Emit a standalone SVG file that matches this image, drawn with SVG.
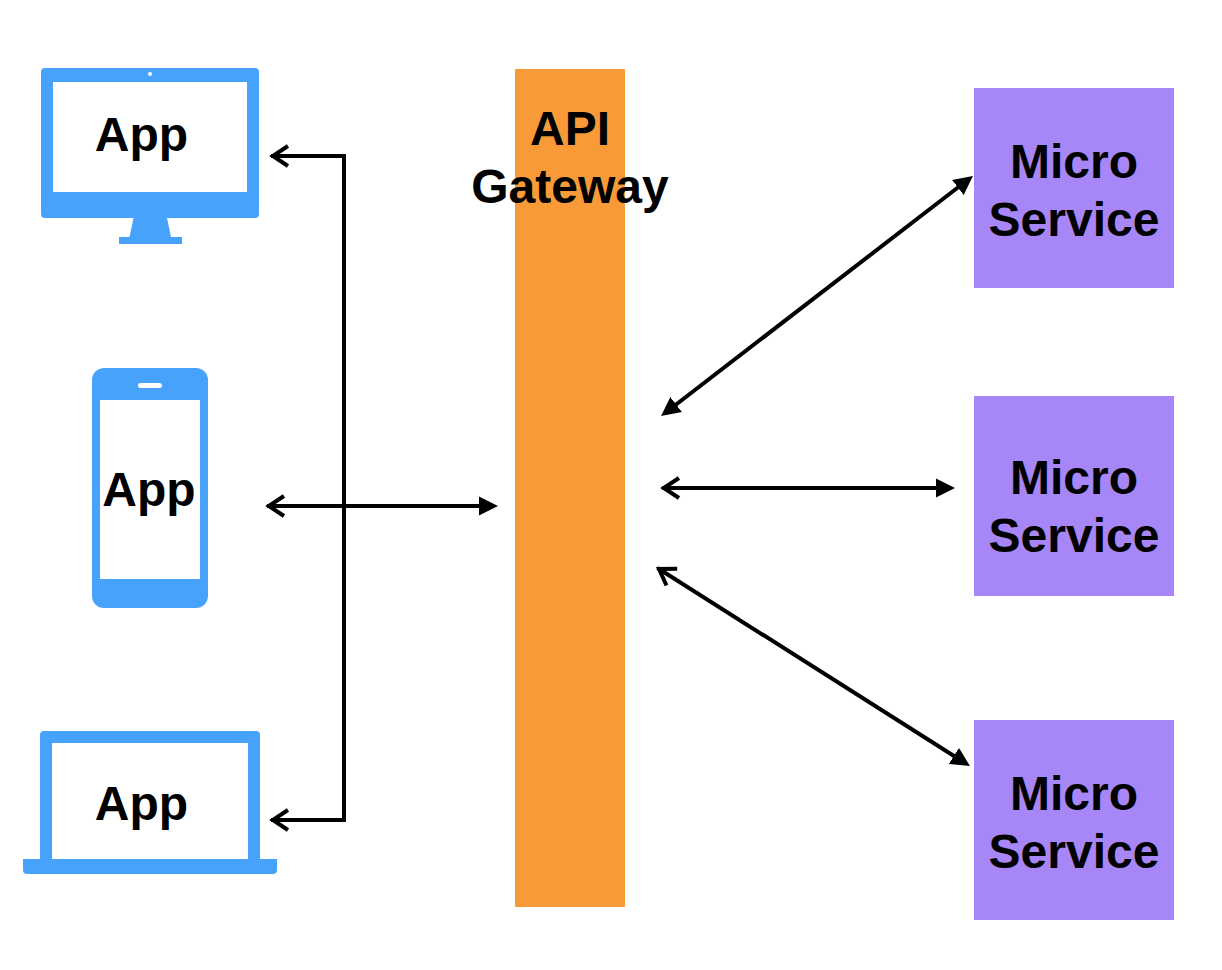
<svg xmlns="http://www.w3.org/2000/svg" width="1222" height="970" viewBox="0 0 1222 970">
<style>
.device{fill:#46a2fb}
.hole{fill:#fff}
.label{font-family:"Liberation Sans",Arial,sans-serif;font-weight:700;font-size:48px;fill:#000;text-anchor:middle}
.conn{fill:none;stroke:#000;stroke-width:4}
.micro{fill:#a786f7}
</style>
<defs>
<marker id="solid" markerUnits="userSpaceOnUse" markerWidth="20" markerHeight="20" refX="9" refY="10" orient="auto-start-reverse"><path d="M0,0.500 L19,10 L0,19.500 Z" fill="#000"/></marker>
<marker id="open" markerUnits="userSpaceOnUse" markerWidth="26" markerHeight="26" refX="20" refY="13" orient="auto-start-reverse"><path d="M3,3 L18.200,13 L3,23" fill="none" stroke="#000" stroke-width="4"/></marker>
</defs>
<rect width="1222" height="970" fill="#fff"/>
<g id="desktop">
<path class="device" d="M119,244V237H129.500L133.500,218H45a4,4 0 0 1-4-4V72a4,4 0 0 1 4-4H255a4,4 0 0 1 4,4V214a4,4 0 0 1-4,4H167L171,237H182V244Z"/>
<rect class="hole" x="53" y="82" width="194" height="110"/>
<circle class="hole" cx="150" cy="74" r="2"/>
<text class="label" x="141.500" y="151">App</text>
</g>
<g id="phone">
<rect class="device" x="92" y="368" width="116" height="240" rx="12"/>
<rect class="hole" x="100" y="400" width="100" height="179"/>
<rect class="hole" x="138" y="383" width="24" height="5" rx="2.500"/>
<text class="label" x="149" y="506">App</text>
</g>
<g id="laptop">
<path class="device" d="M40,859V735a4,4 0 0 1 4-4H256a4,4 0 0 1 4,4V859H277V870a4,4 0 0 1-4,4H27a4,4 0 0 1-4-4V859Z"/>
<rect class="hole" x="52" y="743" width="196" height="116"/>
<text class="label" x="141.500" y="820">App</text>
</g>
<g id="gateway">
<rect x="515" y="69" width="110" height="838" fill="#f99a38"/>
<text class="label" x="570" y="145">API</text>
<text class="label" x="570" y="203">Gateway</text>
</g>
<g id="service1">
<rect class="micro" x="974" y="88" width="200" height="200"/>
<text class="label" x="1074" y="178">Micro</text>
<text class="label" x="1074" y="235.500">Service</text>
</g>
<g id="service2">
<rect class="micro" x="974" y="396" width="200" height="200"/>
<text class="label" x="1074" y="494">Micro</text>
<text class="label" x="1074" y="551.500">Service</text>
</g>
<g id="service3">
<rect class="micro" x="974" y="720" width="200" height="200"/>
<text class="label" x="1074" y="810">Micro</text>
<text class="label" x="1074" y="867.500">Service</text>
</g>
<g id="connectors">
<path class="conn" marker-start="url(#open)" marker-end="url(#open)" d="M271,156H344V820H271"/>
<path class="conn" marker-start="url(#open)" marker-end="url(#solid)" d="M267,506H488"/>
<path class="conn" marker-start="url(#open)" marker-end="url(#solid)" d="M662,488H945"/>
<path class="conn" marker-start="url(#solid)" marker-end="url(#solid)" d="M669,410L965,182"/>
<path class="conn" marker-start="url(#open)" marker-end="url(#solid)" d="M657.500,568L961.500,760.700"/>
</g>
</svg>
